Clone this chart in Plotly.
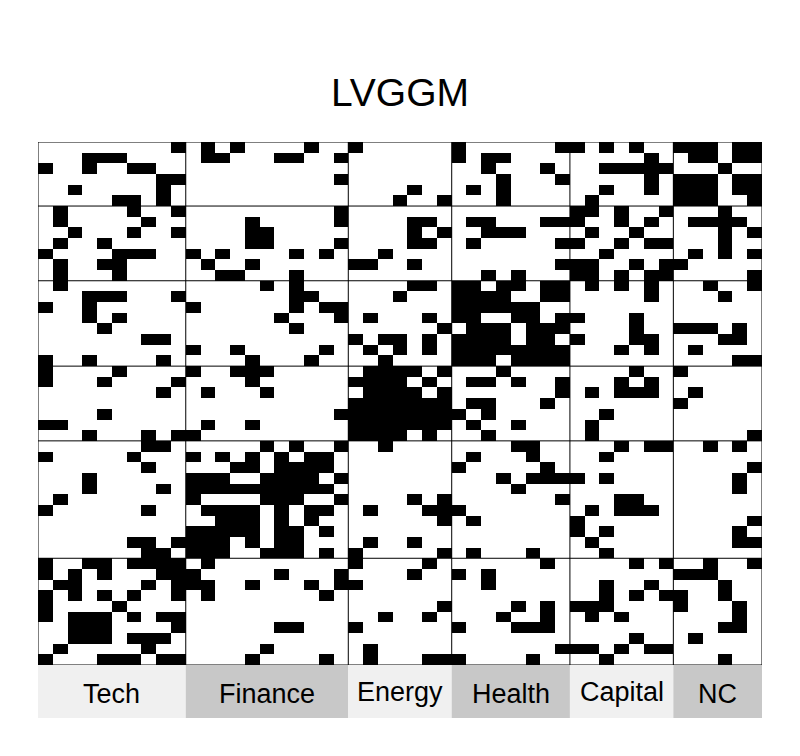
import numpy as np
import plotly.graph_objects as go

block_names = ['Tech', 'Finance', 'Energy', 'Health', 'Capital', 'NC']
block_sizes = [10, 11, 7, 8, 7, 6]
strip_colors = ['#F0F0F0', '#C8C8C8', '#F0F0F0', '#C8C8C8', '#F0F0F0', '#C8C8C8']
label_shift = [0, 0, 2, 0, 2, 0]

# black columns of each row, top row first
nc_rows = [
    [9, 11, 13, 18, 21, 28, 35, 36, 38, 40, 43, 44, 45, 47, 48],
    [3, 4, 5, 11, 12, 16, 17, 20, 28, 30, 31, 41, 44, 45, 47, 48],
    [0, 3, 6, 7, 30, 34, 38, 39, 40, 41, 42, 46],
    [8, 9, 20, 31, 35, 41, 43, 44, 45, 47, 48],
    [2, 8, 25, 29, 31, 38, 41, 43, 44, 45, 47, 48],
    [5, 6, 8, 24, 27, 31, 37, 43, 44, 45, 48],
]
capital_rows = [
    [1, 6, 9, 20, 36, 37, 39, 42, 46],
    [1, 7, 14, 20, 25, 26, 29, 30, 34, 35, 36, 39, 41, 44, 45, 46, 47],
    [2, 6, 9, 14, 15, 25, 27, 30, 31, 32, 37, 40, 46, 48],
    [1, 4, 14, 15, 20, 25, 26, 29, 35, 36, 39, 41, 42, 46],
    [0, 5, 6, 7, 10, 12, 17, 19, 23, 38, 44, 46, 48],
    [1, 4, 5, 11, 14, 21, 22, 25, 35, 36, 37, 40, 42, 43],
    [1, 5, 12, 13, 17, 30, 32, 36, 37, 39, 41, 42, 48],
]
health_rows = [
    [1, 15, 17, 25, 26, 28, 29, 31, 32, 34, 35, 37, 39, 41, 45, 48],
    [3, 4, 5, 9, 17, 18, 24, 28, 29, 30, 31, 34, 35, 41, 46],
    [0, 3, 10, 17, 19, 20, 28, 29, 30, 31, 32, 33],
    [3, 5, 16, 20, 22, 26, 28, 29, 32, 33, 35, 36, 40],
    [4, 17, 27, 29, 30, 31, 33, 34, 35, 40, 43, 44, 45, 47],
    [7, 8, 21, 23, 24, 26, 28, 29, 30, 31, 33, 34, 36, 40, 41, 46, 47],
    [10, 13, 19, 22, 24, 26, 28, 29, 30, 31, 32, 33, 34, 35, 39, 41, 44],
    [0, 3, 8, 14, 18, 23, 28, 29, 30, 32, 33, 34, 35, 47, 48],
]
energy_rows = [
    [0, 5, 10, 13, 14, 15, 22, 23, 24, 25, 27, 31, 40, 43],
    [0, 4, 9, 14, 21, 22, 23, 24, 26, 29, 30, 32, 35, 39, 41],
    [8, 11, 15, 22, 23, 24, 25, 27, 35, 37, 39, 40, 41, 44],
    [21, 22, 23, 24, 25, 26, 27, 29, 30, 34, 43],
    [4, 20, 21, 22, 23, 24, 25, 26, 27, 28, 30, 38],
    [0, 1, 11, 14, 21, 22, 23, 24, 25, 26, 27, 29, 32, 37],
    [3, 7, 9, 10, 21, 22, 23, 24, 26, 30, 37, 48],
]
finance_rows = [
    [7, 8, 15, 17, 20, 23, 32, 33, 39, 41, 42, 45, 47],
    [0, 6, 10, 12, 14, 16, 18, 19, 29, 33, 38],
    [7, 13, 14, 16, 17, 18, 19, 28, 34, 48],
    [3, 10, 11, 12, 15, 16, 17, 18, 20, 31, 33, 34, 35, 36, 38, 47],
    [3, 8, 10, 11, 12, 13, 14, 15, 16, 17, 18, 19, 32, 47],
    [1, 10, 15, 16, 17, 20, 25, 27, 35, 39, 40],
    [0, 7, 11, 12, 13, 14, 16, 18, 19, 22, 26, 27, 28, 37, 39, 40, 41],
    [12, 13, 14, 16, 18, 27, 29, 36, 48],
    [10, 11, 12, 13, 14, 16, 17, 19, 36, 38, 47],
    [6, 7, 9, 10, 11, 12, 14, 16, 17, 22, 25, 37, 47, 48],
    [7, 8, 10, 11, 12, 15, 16, 17, 19, 21, 27, 29, 33, 38],
]
tech_rows = [
    [0, 3, 4, 6, 7, 8, 9, 11, 21, 26, 34, 40, 42, 45, 48],
    [0, 2, 4, 8, 9, 10, 16, 20, 25, 28, 30, 43, 44, 45],
    [1, 2, 7, 9, 10, 11, 14, 18, 20, 21, 30, 38, 41, 46],
    [0, 2, 4, 6, 9, 11, 19, 38, 40, 42, 43, 46],
    [0, 5, 27, 32, 34, 36, 37, 38, 43, 47],
    [0, 2, 3, 4, 6, 8, 9, 23, 26, 31, 34, 37, 39, 47],
    [2, 3, 4, 9, 16, 17, 21, 28, 32, 33, 34, 46, 47],
    [2, 3, 4, 6, 7, 8, 40, 44],
    [1, 7, 15, 22, 35, 36, 37, 39, 41, 42],
    [0, 4, 5, 6, 8, 9, 14, 19, 22, 26, 27, 28, 33, 38, 46],
]

rows = nc_rows + capital_rows + health_rows + energy_rows + finance_rows + tech_rows
n = len(rows)
z = np.zeros((n, n), dtype=int)
for i, cols in enumerate(rows):
    z[i, cols] = 1

fig = go.Figure(go.Heatmap(
    z=z,
    x=list(range(n)),
    y=list(range(n)),
    colorscale=[[0, 'white'], [1, 'black']],
    zmin=0,
    zmax=1,
    showscale=False,
    hoverinfo='skip',
))

edges = np.cumsum([0] + block_sizes) - 0.5
shapes = []
annotations = []
for i, name in enumerate(block_names):
    shapes.append(dict(type='rect', xref='x', yref='paper', x0=edges[i], x1=edges[i + 1], y0=-0.1013, y1=0,
                       fillcolor=strip_colors[i], line_width=0))
    annotations.append(dict(text=name, xref='x', yref='paper', x=(edges[i] + edges[i + 1]) / 2, y=-0.0507,
                            yanchor='middle', yshift=label_shift[i] - 2, showarrow=False,
                            font=dict(size=27, color='black')))

for e in edges:
    shapes.append(dict(type='line', xref='x', yref='paper', x0=e, x1=e, y0=0, y1=1, line=dict(color='black', width=1)))
for e in n - 1 - edges:
    shapes.append(dict(type='line', xref='paper', yref='y', x0=0, x1=1, y0=e, y1=e, line=dict(color='black', width=1)))

# the page adds an 8px body margin around the figure
fig.update_layout(
    width=784,
    height=740,
    margin=dict(l=30, r=30, t=134, b=83),
    paper_bgcolor='white',
    plot_bgcolor='white',
    font=dict(family='Liberation Sans, Arial, sans-serif', color='black'),
    title=dict(text='LVGGM', x=0.5, xanchor='center', y=0.8865, yanchor='middle', font=dict(size=39, color='black')),
    xaxis=dict(visible=False, range=[-0.5, n - 0.5]),
    yaxis=dict(visible=False, range=[n - 0.5, -0.5]),
    shapes=shapes,
    annotations=annotations,
)

fig.write_html('out.html')
